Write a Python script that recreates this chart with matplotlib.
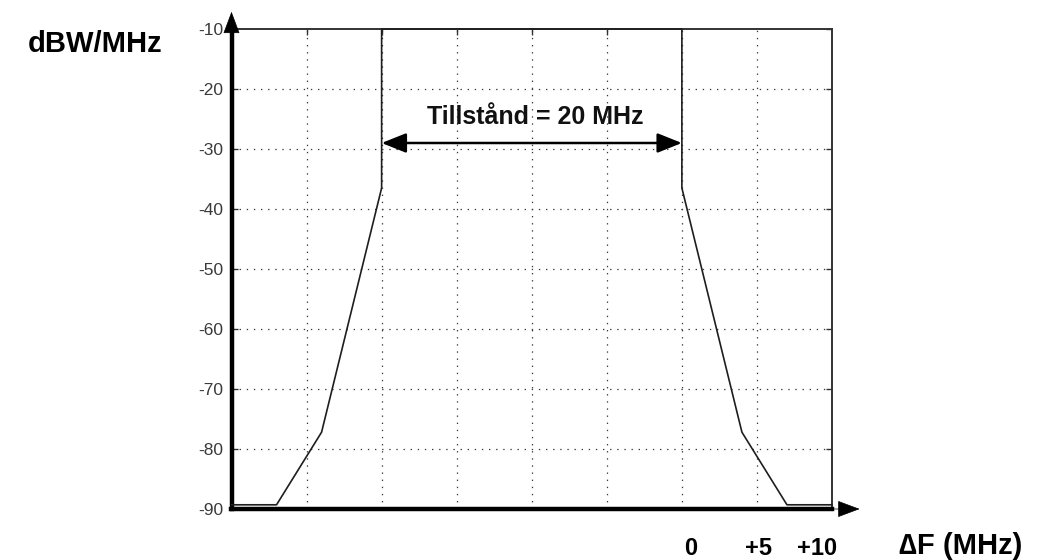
import numpy as np
import matplotlib
matplotlib.use('Agg')
import matplotlib.pyplot as plt
from matplotlib.transforms import ScaledTranslation

plt.rcParams['font.family'] = ['Liberation Sans', 'DejaVu Sans']

# spectrum mask (MHz offset vs dBW/MHz)
mask_f = [-30, -27, -24, -20, -20, 0, 0, 4, 7, 10]
mask_p = [-89.3, -89.3, -77.2, -36.5, -10, -10, -36.5, -77.2, -89.3, -89.3]
y_ticks = [-10, -20, -30, -40, -50, -60, -70, -80, -90]
x_grid = [-30, -25, -20, -15, -10, -5, 0, 5, 10]
x_ticks = [0, 5, 10]
x_labels = ['0', '+5', '+10']
x_label_shift = [9, 2, -15]  # px, labels sit a bit off their ticks
band = (-20, 0)
band_label = 'Tillstånd = 20 MHz'

fig = plt.figure(figsize=(10.38, 5.6), dpi=100)
ax = fig.add_axes([231.5 / 1038, 1 - 509 / 560, 600.5 / 1038, 480 / 560])
ax.set_xlim(-30, 10)
ax.set_ylim(-90, -10)

# dotted grid
grid_kw = dict(color='#3a3a3a', lw=0.9, ls=(0, (1.1, 4.6)), zorder=1)
for g in x_grid[1:-1]:
    ax.axvline(g, **grid_kw)
for g in y_ticks[1:-1]:
    ax.axhline(g, **grid_kw)

ax.plot(mask_f, mask_p, color='#1e1e1e', lw=1.2, zorder=3, clip_on=False)

# spines
for s in ['top', 'right']:
    ax.spines[s].set_linewidth(1.4)
    ax.spines[s].set_color('#333333')
for s in ['left', 'bottom']:
    ax.spines[s].set_linewidth(3.2)
    ax.spines[s].set_color('black')

# arrow heads on the axes
ax.annotate('', xy=(0, 1.036), xytext=(0, 0.99), xycoords='axes fraction',
            arrowprops=dict(arrowstyle='-|>,head_length=1.2,head_width=0.45',
                            color='black', lw=0.5, shrinkA=0, shrinkB=0,
                            mutation_scale=12))
ax.annotate('', xy=(1.046, 0), xytext=(0.99, 0), xycoords='axes fraction',
            arrowprops=dict(arrowstyle='-|>,head_length=1.2,head_width=0.45',
                            color='black', lw=0.5, shrinkA=0, shrinkB=0,
                            mutation_scale=12))

ax.set_yticks(y_ticks)
ax.set_yticklabels([str(v) for v in y_ticks])
ax.tick_params(axis='y', direction='in', length=4, width=1, color='#333333',
               right=True, pad=6, labelsize=12.5, labelcolor='#3a3a3a')

ax.set_xticks(x_grid, minor=True)
ax.tick_params(axis='x', which='minor', direction='in', length=4, width=1,
               color='#333333', top=True, bottom=False)
ax.set_xticks(x_ticks)
ax.set_xticklabels(x_labels, fontsize=17, fontweight='bold')
ax.tick_params(axis='x', which='major', length=0, pad=20)
for lab, dx in zip(ax.get_xticklabels(), x_label_shift):
    lab.set_transform(lab.get_transform() + ScaledTranslation(dx / 100, 0, fig.dpi_scale_trans))

# bandwidth annotation
ax.annotate('', xy=(band[0], -29), xytext=(band[1], -29),
            arrowprops=dict(arrowstyle='<|-|>,head_length=1.0,head_width=0.4',
                            color='black', lw=1.8, shrinkA=0, shrinkB=0,
                            mutation_scale=15), zorder=4)
ax.text((band[0] + band[1]) / 2 + 0.25, -24.6, band_label, ha='center', va='center',
        fontsize=18, fontweight='bold', color='#111111', zorder=4)

fig.text(28 / 1038, 1 - 44 / 560, 'dBW/MHz', ha='left', va='center',
         fontsize=21, fontweight='bold')
fig.text(961 / 1038, 1 - 546 / 560, '\u2206F (MHz)', ha='center', va='center',
         fontsize=21, fontweight='bold')

fig.savefig('out.png', dpi=100)
